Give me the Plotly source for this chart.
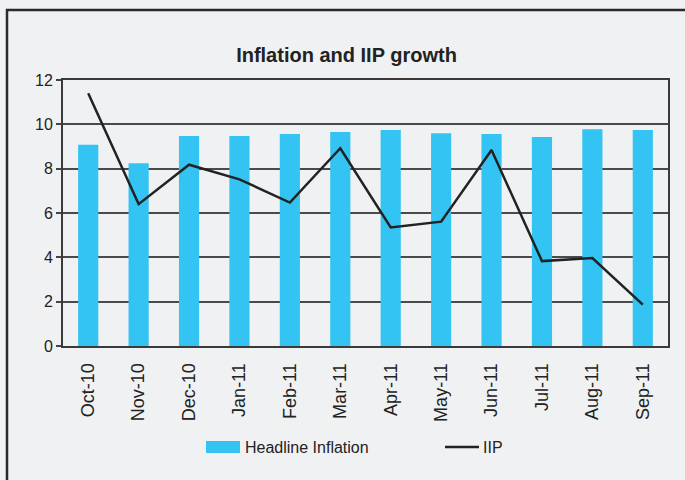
import plotly.graph_objects as go

# Monthly data, Oct-2010 to Sep-2011
months = ["Oct-10", "Nov-10", "Dec-10", "Jan-11", "Feb-11", "Mar-11",
          "Apr-11", "May-11", "Jun-11", "Jul-11", "Aug-11", "Sep-11"]
headline_inflation = [9.08, 8.25, 9.47, 9.47, 9.56, 9.65,
                      9.74, 9.60, 9.56, 9.43, 9.78, 9.74]
iip_growth = [11.4, 6.4, 8.18, 7.52, 6.47, 8.92,
              5.35, 5.61, 8.84, 3.83, 3.97, 1.87]
y_ticks = [0, 2, 4, 6, 8, 10, 12]

BG = "#F0F1F3"
BAR = "#33C4F3"
INK = "#222222"
SANS = "Liberation Sans, Arial"

# Plot-area geometry in pixels (used to place paper-referenced decorations)
W, H = 685, 480
L, R, T, B = 63, 17, 80, 134
PW, PH = W - L - R, H - T - B


def px(x):
    return (x - L) / PW


def py(y):
    return (H - B - y) / PH


fig = go.Figure()
fig.add_trace(go.Bar(x=months, y=headline_inflation, name="Headline Inflation",
                     marker=dict(color=BAR, line=dict(width=0)), width=0.4,
                     showlegend=False))
fig.add_trace(go.Scatter(x=months, y=iip_growth, name="IIP", mode="lines",
                         line=dict(color=INK, width=2.5), showlegend=False))

fig.update_layout(
    width=W, height=H,
    margin=dict(l=L, r=R, t=T, b=B),
    paper_bgcolor=BG, plot_bgcolor=BG,
    title=dict(text="Inflation and IIP growth", x=346.5 / W, xref="container",
               xanchor="center", y=1 - 55 / H, yref="container", yanchor="middle",
               font=dict(family=SANS, size=20, color=INK, weight="bold")),
    font=dict(family=SANS, color=INK),
    bargap=0.6,
)

fig.update_yaxes(range=[0, 12], tickvals=y_ticks, ticks="outside", ticklen=5,
                 tickcolor="#444", tickwidth=1.5,
                 showgrid=True, gridcolor="#4a4a4a", gridwidth=1.5,
                 showline=True, linecolor="#3a3a3a", linewidth=2, mirror=True,
                 zeroline=False, tickfont=dict(size=16, color=INK))
fig.update_xaxes(tickangle=-90, showgrid=False, ticks="",
                 showline=True, linecolor="#3a3a3a", linewidth=2, mirror=True,
                 ticklabelstandoff=8,
                 tickfont=dict(size=18, color=INK))

# Outer chart frame
fig.add_shape(type="rect", xref="paper", yref="paper",
              x0=px(7), x1=px(W + 20), y0=py(H + 20), y1=py(10),
              line=dict(color="#2a2a2a", width=2.5), fillcolor="rgba(0,0,0,0)")

# Legend: swatch for bars, line sample for IIP
fig.add_shape(type="rect", xref="paper", yref="paper",
              x0=px(206), x1=px(240), y0=py(453), y1=py(441),
              line=dict(width=0), fillcolor=BAR)
fig.add_annotation(text="Headline Inflation", xref="paper", yref="paper",
                   x=px(243), y=py(447), xanchor="left", yanchor="middle",
                   showarrow=False, font=dict(family=SANS, size=16, color=INK))
fig.add_shape(type="line", xref="paper", yref="paper",
              x0=px(445), x1=px(479), y0=py(447), y1=py(447),
              line=dict(color=INK, width=2.5))
fig.add_annotation(text="IIP", xref="paper", yref="paper",
                   x=px(481), y=py(447), xanchor="left", yanchor="middle",
                   showarrow=False, font=dict(family=SANS, size=16, color=INK))

fig.write_html("out.html")
